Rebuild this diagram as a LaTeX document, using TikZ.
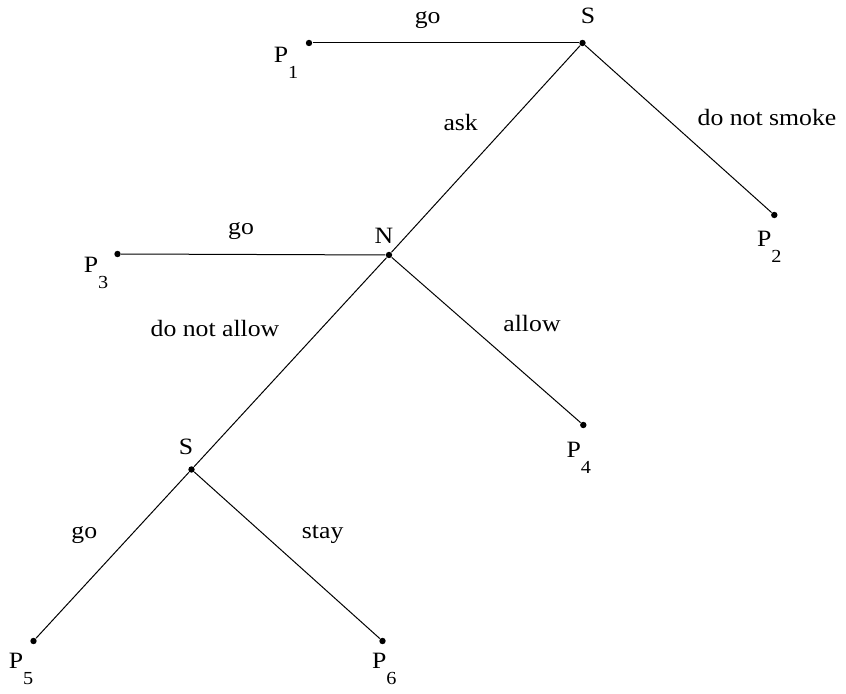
\documentclass[tikz,border=0pt]{standalone}
\usepackage{fontspec}
\setmainfont[FakeStretch=1.1]{Liberation Serif}
\usepackage{tikz}
\usetikzlibrary{positioning}

\newcommand{\psub}[1]{P\raisebox{-8pt}{\fontsize{9.2}{10}\selectfont #1}}

\begin{document}
\begin{tikzpicture}[x=50pt, y=50pt, line width=0.5pt,
  dot/.style={circle, fill=black, inner sep=0pt, minimum size=3.2pt},
  lbl/.style={anchor=base, inner sep=0pt, font=\fontsize{11.7}{14}\selectfont},
  plbl/.style={lbl, anchor=base west}]
\useasboundingbox (0,0) rectangle (8.46,6.94);

% decision points and payoffs
\node[dot] (s1) at (5.825, 6.51) {};
\node[dot] (p1) at (3.09, 6.51) {};
\node[dot] (p2) at (7.743, 4.79) {};
\node[dot] (n) at (3.89, 4.39) {};
\node[dot] (p3) at (1.175, 4.40) {};
\node[dot] (p4) at (5.833, 2.69) {};
\node[dot] (s2) at (1.915, 2.245) {};
\node[dot] (p5) at (0.335, 0.53) {};
\node[dot] (p6) at (3.825, 0.53) {};

\draw (s1) -- (p1);
\draw (s1) -- (p2);
\draw (s1) -- (n);
\draw (n) -- (p3);
\draw (n) -- (p4);
\draw (n) -- (s2);
\draw (s2) -- (p5);
\draw (s2) -- (p6);

% players
\node[lbl] (s1lab) at (5.88, 6.70) {S};
\node[lbl] (nlab) at (3.84, 4.50) {N};
\node[lbl] (s2lab) at (1.86, 2.39) {S};

% payoffs
\node[plbl] (p1lab) at (2.733, 6.317) {\psub{1}};
\node[plbl] (p2lab) at (7.566, 4.473) {\psub{2}};
\node[plbl] (p3lab) at (0.833, 4.213) {\psub{3}};
\node[plbl] (p4lab) at (5.66, 2.363) {\psub{4}};
\node[plbl] (p5lab) at (0.083, 0.257) {\psub{5}};
\node[plbl] (p6lab) at (3.716, 0.257) {\psub{6}};

% actions
\node[lbl] (go1) at (4.277, 6.70) {go};
\node[lbl] (ask) at (4.607, 5.63) {ask};
\node[lbl] (smoke) at (7.67, 5.68) {do not smoke};
\node[lbl] (go2) at (2.41, 4.597) {go};
\node[lbl] (notallow) at (2.15, 3.573) {do not allow};
\node[lbl] (allow) at (5.32, 3.623) {allow};
\node[lbl] (go3) at (0.843, 1.557) {go};
\node[lbl] (stay) at (3.227, 1.557) {stay};

\end{tikzpicture}
\end{document}
